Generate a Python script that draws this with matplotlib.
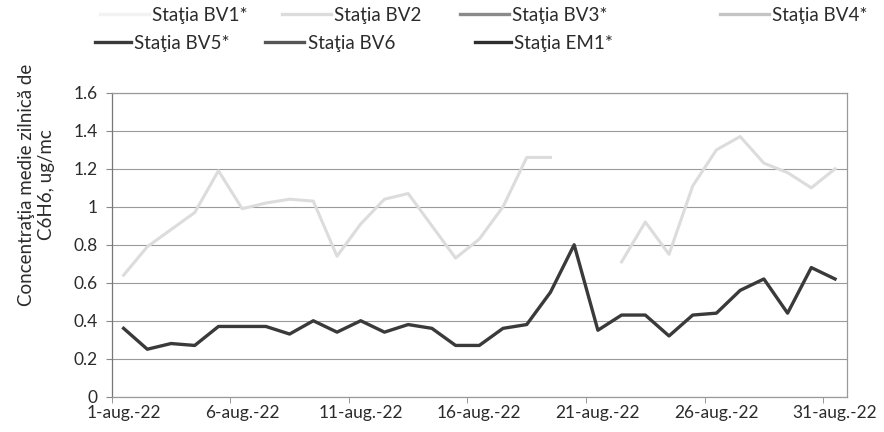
import matplotlib.pyplot as plt
from matplotlib.lines import Line2D
from matplotlib.ticker import FuncFormatter
import numpy as np

plt.rcParams["font.family"] = ["Lato", "DejaVu Sans"]

# data: day of August 2022 and daily mean C6H6 (ug/mc)
days = np.arange(1, 32)
tick_days = [1, 6, 11, 16, 21, 26, 31]
tick_lbl = ["1-aug.-22", "6-aug.-22", "11-aug.-22", "16-aug.-22",
            "21-aug.-22", "26-aug.-22", "31-aug.-22"]

nan = np.nan
bv2 = [0.64, 0.79, 0.88, 0.97, 1.19, 0.99, 1.02, 1.04, 1.03, 0.74,
       0.91, 1.04, 1.07, 0.90, 0.73, 0.83, 1.00, 1.26, 1.26, nan,
       nan, 0.71, 0.92, 0.75, 1.11, 1.30, 1.37, 1.23, 1.18, 1.10, 1.20]
bv5 = [0.36, 0.25, 0.28, 0.27, 0.37, 0.37, 0.37, 0.33, 0.40, 0.34,
       0.40, 0.34, 0.38, 0.36, 0.27, 0.27, 0.36, 0.38, 0.55, 0.80,
       0.35, 0.43, 0.43, 0.32, 0.43, 0.44, 0.56, 0.62, 0.44, 0.68, 0.62]

names = ["Staţia BV1*", "Staţia BV2", "Staţia BV3*", "Staţia BV4*",
         "Staţia BV5*", "Staţia BV6", "Staţia EM1*"]
colors = ["#f2f2f2", "#dcdcdc", "#8a8a8a", "#c4c4c4", "#3a3a3a", "#555555", "#2e2e2e"]

fig = plt.figure(figsize=(8.84, 4.32), dpi=100)
ax = fig.add_axes([0.1264, 0.0817, 0.8316, 0.7033])

ax.plot(days, bv2, color=colors[1], linewidth=2.2)
ax.plot(days, bv5, color=colors[4], linewidth=2.4)

ax.set_xlim(0.5, 31.5)
ax.set_ylim(0, 1.6)
ax.set_yticks(np.arange(0, 1.61, 0.2))
ax.yaxis.set_major_formatter(FuncFormatter(lambda v, p: "%g" % round(v, 1)))
ax.set_xticks(tick_days)
ax.set_xticklabels(tick_lbl)
ax.set_xticks(np.arange(0.5, 32, 5), minor=True)
ax.tick_params(axis="x", which="major", length=0, labelsize=12.5, pad=6, colors="#2b2b2b")
ax.tick_params(axis="x", which="minor", length=4, color="#888888")
ax.tick_params(axis="y", length=4, color="#888888", labelsize=12.5, pad=6, labelcolor="#2b2b2b")
ax.grid(axis="y", color="#9a9a9a", linewidth=0.8)
for s in ax.spines.values():
    s.set_color("#9a9a9a")
    s.set_linewidth(0.9)
ax.spines["left"].set_color("#777777")

ax.set_ylabel("Concentraţia medie zilnică de\nC6H6, ug/mc", fontsize=13.5,
              color="#2b2b2b", linespacing=1.25)
ax.yaxis.set_label_coords(-0.077, 0.697)

# legend: two rows laid out like the original, one entry at a time
leg_x = [100, 282, 460, 720, 95, 265, 475]
leg_y = [15, 15, 15, 15, 43, 43, 43]
leg_len = [2.6, 2.6, 2.6, 2.6, 1.9, 2.1, 1.9]
for i, name in enumerate(names):
    h = Line2D([], [], color=colors[i], linewidth=2.4)
    leg = fig.legend([h], [name], loc="center left",
                     bbox_to_anchor=(leg_x[i] / 884, 1 - leg_y[i] / 432),
                     frameon=False, fontsize=13.5, borderpad=0, borderaxespad=0,
                     handlelength=leg_len[i], handletextpad=0.2)
    leg.get_texts()[0].set_color("#2b2b2b")

fig.savefig("out.png", dpi=100, facecolor="white")
